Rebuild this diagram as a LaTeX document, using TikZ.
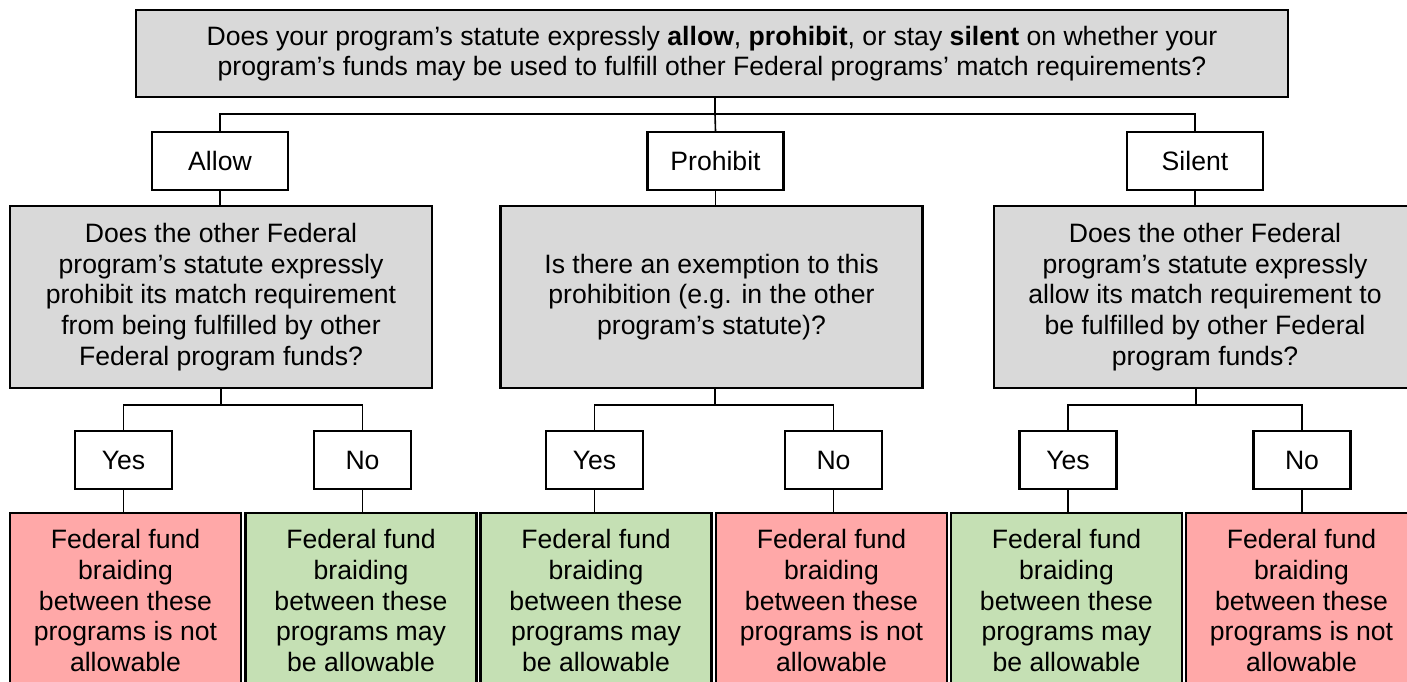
\documentclass[tikz,border=0pt]{standalone}
\usepackage{fontspec}
\setmainfont{Liberation Sans}
\usetikzlibrary{positioning}

\definecolor{qgrey}{HTML}{D9D9D9}
\definecolor{nored}{HTML}{FFA8A8}
\definecolor{okgreen}{HTML}{C5E0B4}

\begin{document}
\begin{tikzpicture}[x=0.5pt, y=-0.5pt,
    every node/.style={font=\fontsize{13.3}{15.3}\selectfont, inner sep=0pt},
    question/.style={draw=black, line width=1.1pt, fill=qgrey, align=center, minimum width=211pt, minimum height=91pt},
    choice/.style={draw=black, line width=1.1pt, fill=white, minimum width=68pt, minimum height=29pt},
    answer/.style={draw=black, line width=1.1pt, fill=white, minimum width=48.5pt, minimum height=29pt},
    outcome/.style={draw=black, line width=1.1pt, align=center, minimum width=115.5pt, anchor=north, inner ysep=8.3pt},
    link/.style={line width=0.8pt}]
        \useasboundingbox (0,0) rectangle (1407,681);
        \clip (0,0) rectangle (1407,681);
        % first question
        \node[question, minimum width=576pt, minimum height=43.5pt] (top) at (712,53.5)
          {Does your program’s statute expressly \textbf{allow}, \textbf{prohibit}, or stay \textbf{silent} on whether your\\
           program’s funds may be used to fulfill other Federal programs’ match requirements?};
        \node[choice] (allow) at (220,161) {Allow};
        \node[choice] (prohibit) at (715.5,161) {Prohibit};
        \node[choice] (silent) at (1195,161) {Silent};
        % second questions
        \node[question] (q1) at (221,297) {Does the other Federal\\program’s statute expressly\\prohibit its match requirement\\from being fulfilled by other\\Federal program funds?};
        \node[question] (q2) at (711.5,297) {Is there an exemption to this\\prohibition (e.g. in the other\\program’s statute)?};
        \node[question] (q3) at (1205,297) {Does the other Federal\\program’s statute expressly\\allow its match requirement to\\be fulfilled by other Federal\\program funds?};
        % answers
        \foreach \i/\yx/\nx in {1/123.5/362.5, 2/594.5/833.5, 3/1068/1302} {
          \node[answer] (y\i) at (\yx,460) {Yes};
          \node[answer] (n\i) at (\nx,460) {No};
        }
        % outcomes
        \node[outcome, fill=nored] (yo1) at (125.5,512) {Federal fund\\braiding\\between these\\programs is not\\allowable};
        \node[outcome, fill=okgreen] (no1) at (361,512) {Federal fund\\braiding\\between these\\programs may\\be allowable};
        \node[outcome, fill=okgreen] (yo2) at (596,512) {Federal fund\\braiding\\between these\\programs may\\be allowable};
        \node[outcome, fill=nored] (no2) at (831.5,512) {Federal fund\\braiding\\between these\\programs is not\\allowable};
        \node[outcome, fill=okgreen] (yo3) at (1066.5,512) {Federal fund\\braiding\\between these\\programs may\\be allowable};
        \node[outcome, fill=nored] (no3) at (1301.5,512) {Federal fund\\braiding\\between these\\programs is not\\allowable};
        % connectors
        \coordinate (s0) at (715,114);
        \draw[link] (top.south -| s0) -- (s0);
        \draw[link] (allow.north) |- (s0) -| (silent.north);
        \draw[link] (s0) -- (prohibit.north);
        \draw[link] (allow.south) -- (allow.south |- q1.north);
        \draw[link] (prohibit.south) -- (prohibit.south |- q2.north);
        \draw[link] (silent.south) -- (silent.south |- q3.north);
        \foreach \i/\sx in {1/221, 2/715, 3/1196} {
          \coordinate (s\i) at (\sx,405);
          \draw[link] (q\i.south -| s\i) -- (s\i);
          \draw[link] (y\i.north) |- (s\i) -| (n\i.north);
          \draw[link] (y\i.south) -- (y\i.south |- yo\i.north);
          \draw[link] (n\i.south) -- (n\i.south |- no\i.north);
        }
      \end{tikzpicture}
\end{document}
